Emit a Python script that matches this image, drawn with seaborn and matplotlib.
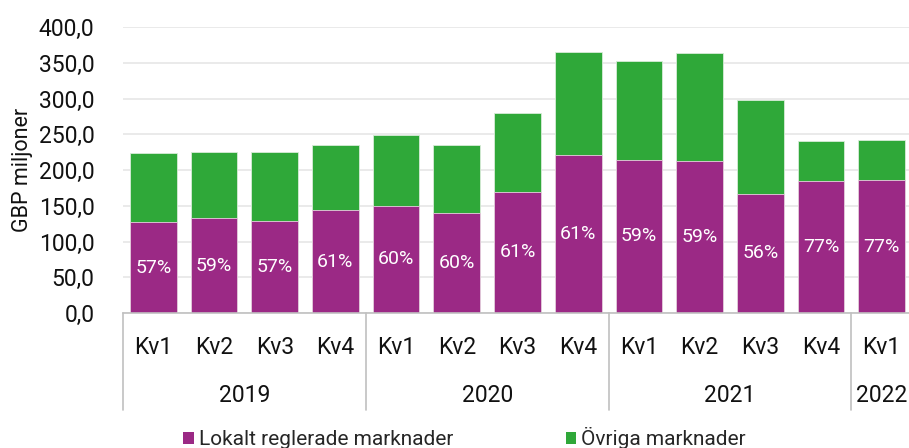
import matplotlib
matplotlib.use("Agg")
import matplotlib.pyplot as plt
import matplotlib.transforms as mtransforms
from matplotlib.patches import Patch
import seaborn as sns
import pandas as pd

years = ["2019", "2019", "2019", "2019", "2020", "2020", "2020", "2020",
         "2021", "2021", "2021", "2021", "2022"]
quarters = ["Kv1", "Kv2", "Kv3", "Kv4", "Kv1", "Kv2", "Kv3", "Kv4",
            "Kv1", "Kv2", "Kv3", "Kv4", "Kv1"]
lokalt = [127.0, 132.7, 128.5, 143.9, 150.3, 139.2, 169.9, 221.6,
          214.2, 213.2, 166.7, 184.8, 185.8]
ovriga = [97.0, 93.1, 96.8, 91.7, 98.7, 95.5, 109.9, 143.0,
          137.8, 150.0, 131.3, 55.5, 55.9]
pct_labels = ["57%", "59%", "57%", "61%", "60%", "60%", "61%", "61%",
              "59%", "59%", "56%", "77%", "77%"]
year_groups = ["2019", "2020", "2021", "2022"]

PURPLE = "#9B2985"
GREEN = "#2FA839"
TXT = "#111111"

sns.set_theme(style="white")
plt.rcParams['font.family'] = ['Roboto', 'DejaVu Sans']

keys = [f"{y} {q}" for y, q in zip(years, quarters)]
df = pd.DataFrame({"key": keys, "lokalt": lokalt,
                   "total": [a + b for a, b in zip(lokalt, ovriga)]})

fig = plt.figure(figsize=(9.09, 4.48), dpi=100)
ax = fig.add_axes([123/909, 135/448, (909-123)/909, 286/448])

sns.barplot(data=df, x="key", y="total", order=keys, color=GREEN,
            saturation=1, width=0.77, ax=ax, edgecolor="#d8ecd8", linewidth=0.6)
sns.barplot(data=df, x="key", y="lokalt", order=keys, color=PURPLE,
            saturation=1, width=0.77, ax=ax, edgecolor="#e8d0e0", linewidth=0.6)

ax.set_ylim(0, 400)
ax.set_xlim(-0.5, 12.45)
ax.set_yticks(range(0, 401, 50))
ax.set_yticklabels([f"{v},0" for v in range(0, 401, 50)], fontsize=16.5, color=TXT)
ax.tick_params(axis="y", length=0, pad=20.5)
ax.set_xticks([])
ax.set_xlabel("")
ax.set_ylabel("GBP miljoner", fontsize=15.5, color=TXT, labelpad=4)
ax.yaxis.grid(True, color="#e6e6e6", linewidth=1.2)
ax.set_axisbelow(True)
for s in ["top", "right", "left"]:
    ax.spines[s].set_visible(False)
ax.spines["bottom"].set_color("#c0c0c0")
ax.spines["bottom"].set_linewidth(1.2)

# percentage labels centered in purple segment
for i, (v, lab) in enumerate(zip(lokalt, pct_labels)):
    ax.text(i, v / 2, lab, ha="center", va="center", color="white", fontsize=14)

trans = mtransforms.blended_transform_factory(ax.transData, ax.transAxes)
# quarter labels
for i, q in enumerate(quarters):
    ax.text(i, -0.122, q, ha="center", va="center", fontsize=16.5,
            color=TXT, transform=trans)
# year labels and separators
idx = 0
bounds = [-0.5]
for yg in year_groups:
    n = years.count(yg)
    center = idx + (n - 1) / 2
    ax.text(center, -0.29, yg, ha="center", va="center", fontsize=16.5,
            color=TXT, transform=trans)
    idx += n
    bounds.append(idx - 0.5)
for b in bounds[:-1]:
    ax.plot([b, b], [0, -0.339], color="#c0c0c0", linewidth=1.2,
            transform=trans, clip_on=False)

handles = [Patch(facecolor=PURPLE, edgecolor="none", label="Lokalt reglerade marknader"),
           Patch(facecolor=GREEN, edgecolor="none", label="Övriga marknader")]
fig.legend(handles=handles, loc="center", bbox_to_anchor=(0.511, 0.022), ncol=2,
           frameon=False, fontsize=15, columnspacing=5.4, handlelength=0.5,
           handleheight=0.5, handletextpad=0.25)

fig.savefig("out.png", dpi=100)
